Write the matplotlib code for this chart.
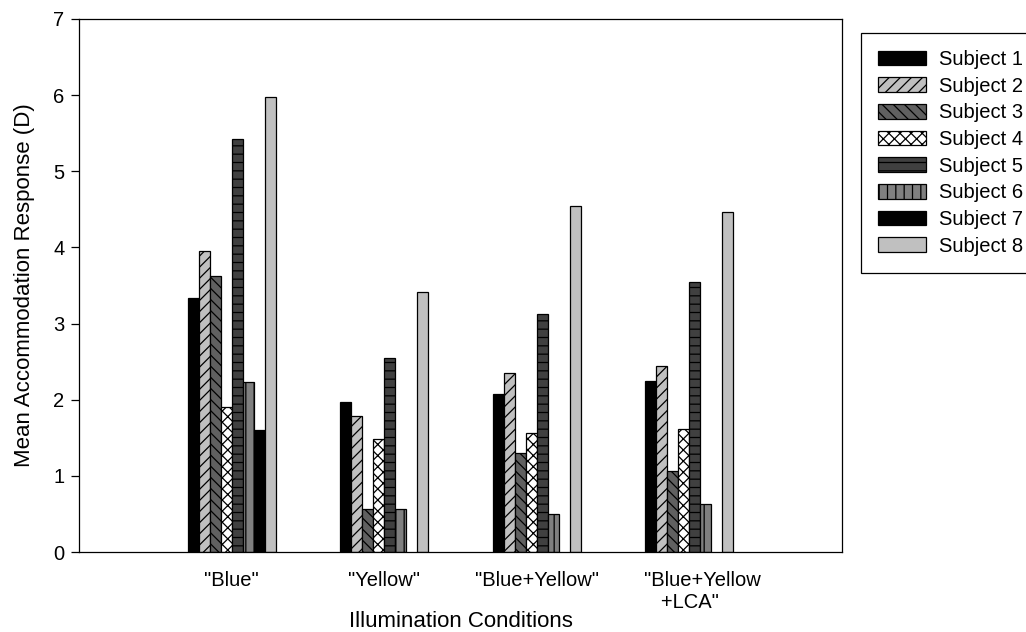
import numpy as np
import matplotlib
matplotlib.use("Agg")
import matplotlib.pyplot as plt

plt.rcParams['font.family'] = ['Liberation Sans', 'DejaVu Sans']
plt.rcParams['hatch.linewidth'] = 0.9

conditions = ['"Blue"', '"Yellow"', '"Blue+Yellow"', '"Blue+Yellow\n+LCA"']
subjects = ['Subject 1', 'Subject 2', 'Subject 3', 'Subject 4',
            'Subject 5', 'Subject 6', 'Subject 7', 'Subject 8']

subject1 = [3.33, 1.97, 2.07, 2.24]
subject2 = [3.95, 1.78, 2.35, 2.44]
subject3 = [3.63, 0.56, 1.30, 1.07]
subject4 = [1.90, 1.49, 1.56, 1.61]
subject5 = [5.42, 2.55, 3.12, 3.55]
subject6 = [2.23, 0.57, 0.50, 0.63]
subject7 = [1.60, np.nan, np.nan, np.nan]
subject8 = [5.97, 3.42, 4.54, 4.47]

series = [subject1, subject2, subject3, subject4,
          subject5, subject6, subject7, subject8]

styles = [
    dict(facecolor='black', hatch=None),
    dict(facecolor='#c0c0c0', hatch='///'),
    dict(facecolor='#606060', hatch='\\\\\\'),
    dict(facecolor='white', hatch='xxx'),
    dict(facecolor='#404040', hatch='--'),
    dict(facecolor='#808080', hatch='||'),
    dict(facecolor='black', hatch=None),
    dict(facecolor='#c0c0c0', hatch=None),
]

fig = plt.figure(figsize=(10.26, 6.32), dpi=100)
ax = fig.add_axes([79/1026, 80/632, (842-79)/1026, (552-19)/632])

x = np.arange(len(conditions))
w = 0.0721
n = len(series)
for i, (vals, st) in enumerate(zip(series, styles)):
    ax.bar(x + (i - (n - 1) / 2) * w, vals, width=w, color=st['facecolor'],
           hatch=st['hatch'], edgecolor='black', linewidth=0.9,
           label=subjects[i], zorder=2)

ax.set_xlim(-1, 4)
ax.set_ylim(0, 7)
ax.set_yticks(range(0, 8))
ax.tick_params(axis='y', direction='out', length=6, width=0.9, pad=4.5, labelsize=14.5)
ax.set_xticks(x[:3])
ax.set_xticklabels(conditions[:3], fontsize=14.5)
ax.tick_params(axis='x', length=0, pad=13.5)
ax.text(3.085, -0.255, conditions[3].replace('\n', '\n   '), fontsize=14.5,
        ha='center', va='top', multialignment='left')
for s in ax.spines.values():
    s.set_linewidth(0.9)

ax.set_xlabel('Illumination Conditions', fontsize=16, labelpad=15)
ax.set_ylabel('Mean Accommodation Response (D)', fontsize=16, labelpad=13)

leg = fig.legend(loc='upper left', bbox_to_anchor=(861/1026, 1 - 33/632),
                 fontsize=14.5, frameon=True, fancybox=False, framealpha=1,
                 edgecolor='black', handlelength=2.4, handleheight=0.75,
                 labelspacing=0.38, handletextpad=0.62, borderpad=0.85,
                 borderaxespad=0)
leg.get_frame().set_linewidth(0.9)

fig.savefig('out.png', dpi=100)
